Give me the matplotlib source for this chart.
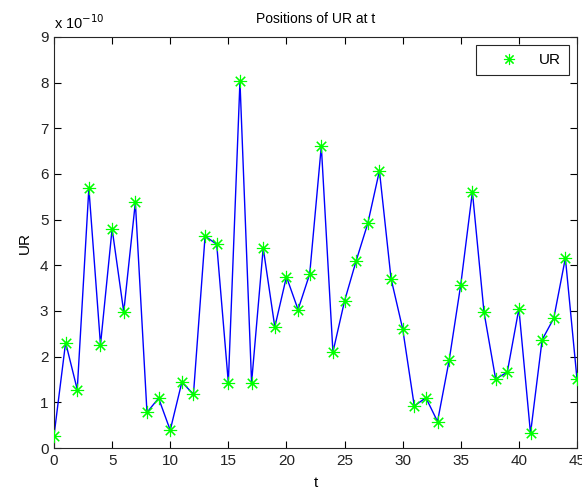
import matplotlib
matplotlib.use("Agg")
import matplotlib.pyplot as plt
from matplotlib.lines import Line2D
from matplotlib.ticker import FuncFormatter, MultipleLocator

t = list(range(46))
ur_scaled = [0.27, 2.31, 1.28, 5.69, 2.26, 4.80, 2.98, 5.38, 0.78, 1.09,
             0.39, 1.44, 1.18, 4.64, 4.46, 1.43, 8.03, 1.43, 4.38, 2.65,
             3.75, 3.03, 3.81, 6.61, 2.10, 3.22, 4.10, 4.92, 6.07, 3.71,
             2.61, 0.92, 1.10, 0.58, 1.92, 3.58, 5.61, 2.97, 1.51, 1.66,
             3.05, 0.32, 2.37, 2.84, 4.16, 1.51]
ur = [v * 1e-10 for v in ur_scaled]

plt.rcParams['font.family'] = ['Liberation Sans', 'DejaVu Sans']

fig = plt.figure(figsize=(5.82, 4.92), dpi=100)
ax = fig.add_axes([54/582, 44/492, 523/582, 411/492])

ax.plot(t, ur, color=(0, 0, 1), lw=1.0, zorder=2)
ax.plot(t, ur, linestyle='none', marker=(8, 2, 0), markersize=9.5,
        markeredgecolor=(0, 1, 0), markerfacecolor=(0, 1, 0),
        markeredgewidth=0.8, zorder=3)

ax.set_xlim(0, 45)
ax.set_ylim(0, 9e-10)
ax.xaxis.set_major_locator(MultipleLocator(5))
ax.yaxis.set_major_locator(MultipleLocator(1e-10))
ax.yaxis.set_major_formatter(FuncFormatter(lambda v, p: f"{v*1e10:.0f}"))
ax.tick_params(direction='in', top=True, right=True, length=5, width=0.8,
               labelsize=11, pad=4, labelcolor='#222222')
for s in ax.spines.values():
    s.set_linewidth(0.8)
    s.set_color('#262626')

ax.set_title('Positions of UR at t', fontsize=10, pad=10)
ax.set_xlabel('t', fontsize=11, labelpad=6)
ax.set_ylabel('UR', fontsize=11, labelpad=6)
ax.text(0.0, 1.012, r'x 10$^{-10}$', transform=ax.transAxes, fontsize=10.5,
        ha='left', va='bottom')

h = Line2D([], [], linestyle='none', marker=(8, 2, 0), markersize=8,
           markeredgecolor=(0, 1, 0), markeredgewidth=0.8)
leg = ax.legend([h], ['UR'], loc='upper right', fontsize=11,
                frameon=True, fancybox=False, framealpha=1,
                edgecolor='#262626', handlelength=3.3, handletextpad=0.3,
                borderpad=0.5, borderaxespad=0.55)
leg.get_frame().set_linewidth(0.8)

fig.savefig('out.png', dpi=100)
